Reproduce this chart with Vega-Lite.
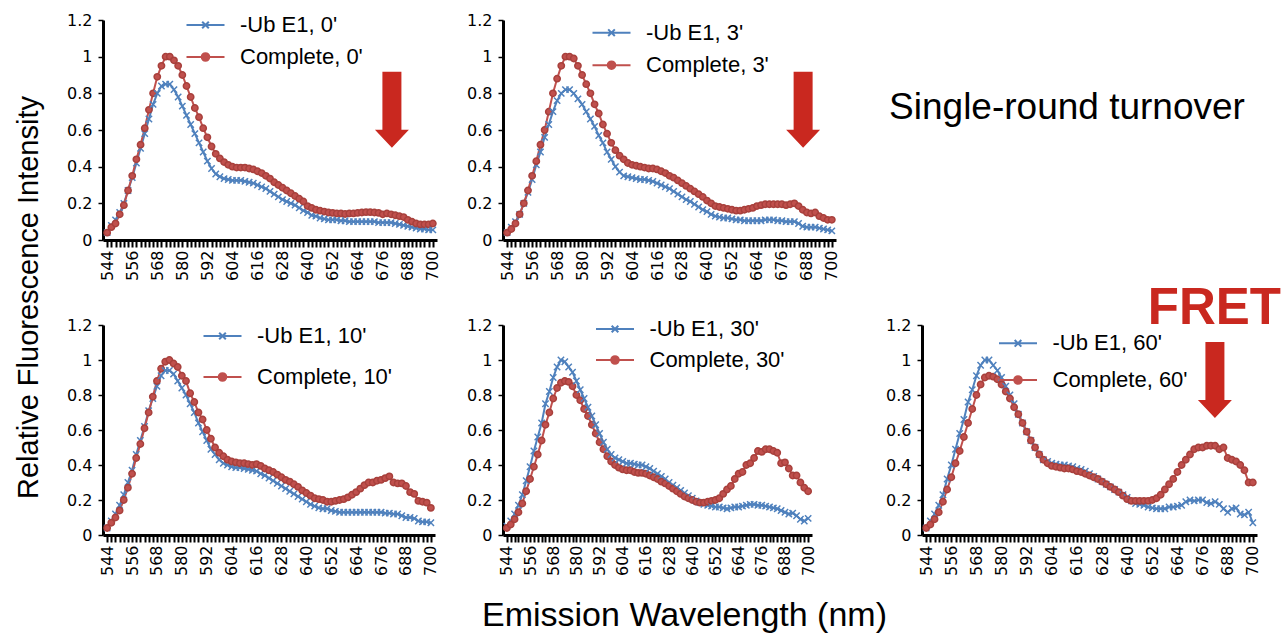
{
"$schema": "https://vega.github.io/schema/vega-lite/v6.json",
"background": "white",
"padding": {"left": 0, "top": 12, "right": 0, "bottom": 0},
"autosize": {"type": "pad"},
"config": {
 "view": {"stroke": null},
 "font": "Liberation Sans",
 "axis": {"grid": false, "domainColor": "black", "domainWidth": 3, "tickColor": "black", "labelColor": "black", "labelFont": "DejaVu Sans", "labelFontSize": 16, "labelOverlap": false, "labelFlush": false},
 "axisX": {"tickSize": 7, "tickWidth": 2, "labelAngle": 270, "labelPadding": 3},
 "axisY": {"tickSize": 5, "tickWidth": 1.5, "labelPadding": 6},
 "legend": {"orient": "none", "title": null, "padding": 0, "symbolSize": 361, "symbolStrokeWidth": 2, "labelFontSize": 22, "labelFont": "Liberation Sans", "labelColor": "black", "labelOffset": 23.5, "labelLimit": 0}
},
"datasets": {
 "spec": [
{"wl":544,"ub0":0.04,"c0":0.04,"ub3":0.04,"c3":0.04,"ub10":0.04,"c10":0.04,"ub30":0.05,"c30":0.04,"ub60":0.04,"c60":0.04},
{"wl":546,"ub0":0.08,"c0":0.07,"ub3":0.07,"c3":0.06,"ub10":0.08,"c10":0.07,"ub30":0.08,"c30":0.06,"ub60":0.08,"c60":0.06},
{"wl":548,"ub0":0.11,"c0":0.09,"ub3":0.10,"c3":0.09,"ub10":0.12,"c10":0.10,"ub30":0.12,"c30":0.09,"ub60":0.12,"c60":0.09},
{"wl":550,"ub0":0.15,"c0":0.14,"ub3":0.14,"c3":0.14,"ub10":0.17,"c10":0.14,"ub30":0.17,"c30":0.13,"ub60":0.17,"c60":0.13},
{"wl":552,"ub0":0.20,"c0":0.19,"ub3":0.20,"c3":0.20,"ub10":0.23,"c10":0.20,"ub30":0.23,"c30":0.18,"ub60":0.23,"c60":0.19},
{"wl":554,"ub0":0.27,"c0":0.27,"ub3":0.26,"c3":0.27,"ub10":0.30,"c10":0.27,"ub30":0.31,"c30":0.25,"ub60":0.32,"c60":0.26},
{"wl":556,"ub0":0.34,"c0":0.35,"ub3":0.33,"c3":0.35,"ub10":0.37,"c10":0.35,"ub30":0.39,"c30":0.32,"ub60":0.40,"c60":0.33},
{"wl":558,"ub0":0.42,"c0":0.44,"ub3":0.41,"c3":0.43,"ub10":0.46,"c10":0.44,"ub30":0.48,"c30":0.39,"ub60":0.49,"c60":0.41},
{"wl":560,"ub0":0.50,"c0":0.52,"ub3":0.48,"c3":0.52,"ub10":0.54,"c10":0.52,"ub30":0.56,"c30":0.46,"ub60":0.58,"c60":0.48},
{"wl":562,"ub0":0.58,"c0":0.61,"ub3":0.56,"c3":0.60,"ub10":0.62,"c10":0.61,"ub30":0.64,"c30":0.54,"ub60":0.66,"c60":0.56},
{"wl":564,"ub0":0.66,"c0":0.71,"ub3":0.63,"c3":0.70,"ub10":0.71,"c10":0.70,"ub30":0.75,"c30":0.63,"ub60":0.76,"c60":0.64},
{"wl":566,"ub0":0.74,"c0":0.80,"ub3":0.70,"c3":0.80,"ub10":0.78,"c10":0.79,"ub30":0.82,"c30":0.70,"ub60":0.83,"c60":0.72},
{"wl":568,"ub0":0.80,"c0":0.89,"ub3":0.76,"c3":0.88,"ub10":0.85,"c10":0.88,"ub30":0.90,"c30":0.78,"ub60":0.91,"c60":0.80},
{"wl":570,"ub0":0.84,"c0":0.95,"ub3":0.80,"c3":0.95,"ub10":0.91,"c10":0.95,"ub30":0.96,"c30":0.84,"ub60":0.97,"c60":0.86},
{"wl":572,"ub0":0.85,"c0":1.0,"ub3":0.82,"c3":1.0,"ub10":0.94,"c10":0.99,"ub30":1.0,"c30":0.87,"ub60":1.0,"c60":0.90},
{"wl":574,"ub0":0.85,"c0":1.0,"ub3":0.82,"c3":1.0,"ub10":0.94,"c10":1.0,"ub30":0.99,"c30":0.88,"ub60":1.0,"c60":0.91},
{"wl":576,"ub0":0.82,"c0":0.98,"ub3":0.80,"c3":0.99,"ub10":0.92,"c10":0.98,"ub30":0.96,"c30":0.875,"ub60":0.97,"c60":0.905},
{"wl":578,"ub0":0.78,"c0":0.95,"ub3":0.77,"c3":0.95,"ub10":0.88,"c10":0.96,"ub30":0.93,"c30":0.85,"ub60":0.94,"c60":0.89},
{"wl":580,"ub0":0.73,"c0":0.90,"ub3":0.74,"c3":0.90,"ub10":0.84,"c10":0.91,"ub30":0.88,"c30":0.80,"ub60":0.90,"c60":0.86},
{"wl":582,"ub0":0.68,"c0":0.84,"ub3":0.70,"c3":0.85,"ub10":0.80,"c10":0.88,"ub30":0.83,"c30":0.77,"ub60":0.85,"c60":0.82},
{"wl":584,"ub0":0.63,"c0":0.78,"ub3":0.66,"c3":0.80,"ub10":0.75,"c10":0.81,"ub30":0.78,"c30":0.72,"ub60":0.80,"c60":0.78},
{"wl":586,"ub0":0.58,"c0":0.72,"ub3":0.62,"c3":0.74,"ub10":0.70,"c10":0.76,"ub30":0.73,"c30":0.68,"ub60":0.75,"c60":0.73},
{"wl":588,"ub0":0.53,"c0":0.67,"ub3":0.57,"c3":0.69,"ub10":0.64,"c10":0.70,"ub30":0.68,"c30":0.63,"ub60":0.69,"c60":0.69},
{"wl":590,"ub0":0.48,"c0":0.61,"ub3":0.53,"c3":0.63,"ub10":0.59,"c10":0.66,"ub30":0.63,"c30":0.58,"ub60":0.64,"c60":0.64},
{"wl":592,"ub0":0.43,"c0":0.56,"ub3":0.48,"c3":0.58,"ub10":0.54,"c10":0.60,"ub30":0.58,"c30":0.53,"ub60":0.59,"c60":0.59},
{"wl":594,"ub0":0.39,"c0":0.51,"ub3":0.44,"c3":0.53,"ub10":0.49,"c10":0.55,"ub30":0.53,"c30":0.49,"ub60":0.54,"c60":0.54},
{"wl":596,"ub0":0.36,"c0":0.47,"ub3":0.40,"c3":0.49,"ub10":0.46,"c10":0.50,"ub30":0.49,"c30":0.45,"ub60":0.50,"c60":0.50},
{"wl":598,"ub0":0.345,"c0":0.445,"ub3":0.37,"c3":0.46,"ub10":0.43,"c10":0.47,"ub30":0.46,"c30":0.42,"ub60":0.46,"c60":0.46},
{"wl":600,"ub0":0.335,"c0":0.425,"ub3":0.35,"c3":0.44,"ub10":0.41,"c10":0.45,"ub30":0.44,"c30":0.40,"ub60":0.43,"c60":0.43},
{"wl":602,"ub0":0.33,"c0":0.41,"ub3":0.345,"c3":0.42,"ub10":0.40,"c10":0.43,"ub30":0.43,"c30":0.385,"ub60":0.42,"c60":0.41},
{"wl":604,"ub0":0.325,"c0":0.40,"ub3":0.34,"c3":0.41,"ub10":0.39,"c10":0.42,"ub30":0.42,"c30":0.375,"ub60":0.41,"c60":0.395},
{"wl":606,"ub0":0.325,"c0":0.395,"ub3":0.335,"c3":0.405,"ub10":0.385,"c10":0.415,"ub30":0.41,"c30":0.37,"ub60":0.405,"c60":0.39},
{"wl":608,"ub0":0.325,"c0":0.395,"ub3":0.33,"c3":0.40,"ub10":0.385,"c10":0.41,"ub30":0.41,"c30":0.37,"ub60":0.40,"c60":0.385},
{"wl":610,"ub0":0.32,"c0":0.395,"ub3":0.33,"c3":0.395,"ub10":0.38,"c10":0.41,"ub30":0.405,"c30":0.36,"ub60":0.40,"c60":0.38},
{"wl":612,"ub0":0.315,"c0":0.39,"ub3":0.325,"c3":0.39,"ub10":0.375,"c10":0.405,"ub30":0.40,"c30":0.355,"ub60":0.395,"c60":0.38},
{"wl":614,"ub0":0.31,"c0":0.385,"ub3":0.32,"c3":0.39,"ub10":0.37,"c10":0.40,"ub30":0.40,"c30":0.355,"ub60":0.39,"c60":0.375},
{"wl":616,"ub0":0.30,"c0":0.375,"ub3":0.31,"c3":0.385,"ub10":0.365,"c10":0.405,"ub30":0.39,"c30":0.35,"ub60":0.38,"c60":0.365},
{"wl":618,"ub0":0.29,"c0":0.365,"ub3":0.30,"c3":0.375,"ub10":0.35,"c10":0.395,"ub30":0.38,"c30":0.34,"ub60":0.375,"c60":0.36},
{"wl":620,"ub0":0.28,"c0":0.35,"ub3":0.29,"c3":0.365,"ub10":0.34,"c10":0.38,"ub30":0.365,"c30":0.33,"ub60":0.365,"c60":0.35},
{"wl":622,"ub0":0.265,"c0":0.335,"ub3":0.28,"c3":0.35,"ub10":0.325,"c10":0.37,"ub30":0.35,"c30":0.32,"ub60":0.35,"c60":0.34},
{"wl":624,"ub0":0.25,"c0":0.315,"ub3":0.265,"c3":0.34,"ub10":0.31,"c10":0.36,"ub30":0.335,"c30":0.305,"ub60":0.335,"c60":0.33},
{"wl":626,"ub0":0.235,"c0":0.30,"ub3":0.25,"c3":0.325,"ub10":0.295,"c10":0.345,"ub30":0.32,"c30":0.295,"ub60":0.32,"c60":0.32},
{"wl":628,"ub0":0.22,"c0":0.285,"ub3":0.235,"c3":0.31,"ub10":0.28,"c10":0.33,"ub30":0.30,"c30":0.28,"ub60":0.305,"c60":0.305},
{"wl":630,"ub0":0.21,"c0":0.27,"ub3":0.22,"c3":0.295,"ub10":0.265,"c10":0.315,"ub30":0.285,"c30":0.265,"ub60":0.29,"c60":0.29},
{"wl":632,"ub0":0.20,"c0":0.255,"ub3":0.21,"c3":0.28,"ub10":0.25,"c10":0.305,"ub30":0.27,"c30":0.25,"ub60":0.275,"c60":0.275},
{"wl":634,"ub0":0.19,"c0":0.24,"ub3":0.195,"c3":0.265,"ub10":0.235,"c10":0.29,"ub30":0.255,"c30":0.235,"ub60":0.26,"c60":0.26},
{"wl":636,"ub0":0.175,"c0":0.225,"ub3":0.18,"c3":0.25,"ub10":0.22,"c10":0.275,"ub30":0.24,"c30":0.22,"ub60":0.245,"c60":0.245},
{"wl":638,"ub0":0.16,"c0":0.21,"ub3":0.165,"c3":0.235,"ub10":0.205,"c10":0.255,"ub30":0.225,"c30":0.21,"ub60":0.23,"c60":0.225},
{"wl":640,"ub0":0.15,"c0":0.185,"ub3":0.155,"c3":0.215,"ub10":0.19,"c10":0.24,"ub30":0.21,"c30":0.20,"ub60":0.215,"c60":0.205},
{"wl":642,"ub0":0.135,"c0":0.175,"ub3":0.14,"c3":0.20,"ub10":0.175,"c10":0.225,"ub30":0.195,"c30":0.19,"ub60":0.195,"c60":0.195},
{"wl":644,"ub0":0.13,"c0":0.165,"ub3":0.13,"c3":0.185,"ub10":0.165,"c10":0.21,"ub30":0.185,"c30":0.185,"ub60":0.18,"c60":0.195},
{"wl":646,"ub0":0.12,"c0":0.16,"ub3":0.125,"c3":0.18,"ub10":0.155,"c10":0.205,"ub30":0.175,"c30":0.185,"ub60":0.175,"c60":0.195},
{"wl":648,"ub0":0.115,"c0":0.155,"ub3":0.12,"c3":0.175,"ub10":0.15,"c10":0.20,"ub30":0.17,"c30":0.19,"ub60":0.17,"c60":0.195},
{"wl":650,"ub0":0.11,"c0":0.15,"ub3":0.12,"c3":0.17,"ub10":0.15,"c10":0.19,"ub30":0.165,"c30":0.195,"ub60":0.16,"c60":0.195},
{"wl":652,"ub0":0.11,"c0":0.148,"ub3":0.115,"c3":0.165,"ub10":0.14,"c10":0.19,"ub30":0.16,"c30":0.20,"ub60":0.155,"c60":0.20},
{"wl":654,"ub0":0.11,"c0":0.145,"ub3":0.11,"c3":0.16,"ub10":0.135,"c10":0.195,"ub30":0.16,"c30":0.21,"ub60":0.15,"c60":0.21},
{"wl":656,"ub0":0.105,"c0":0.145,"ub3":0.11,"c3":0.16,"ub10":0.13,"c10":0.20,"ub30":0.155,"c30":0.235,"ub60":0.15,"c60":0.23},
{"wl":658,"ub0":0.105,"c0":0.142,"ub3":0.105,"c3":0.165,"ub10":0.13,"c10":0.205,"ub30":0.15,"c30":0.26,"ub60":0.15,"c60":0.26},
{"wl":660,"ub0":0.10,"c0":0.145,"ub3":0.105,"c3":0.17,"ub10":0.13,"c10":0.215,"ub30":0.155,"c30":0.28,"ub60":0.16,"c60":0.29},
{"wl":662,"ub0":0.10,"c0":0.145,"ub3":0.105,"c3":0.175,"ub10":0.13,"c10":0.23,"ub30":0.16,"c30":0.32,"ub60":0.16,"c60":0.32},
{"wl":664,"ub0":0.10,"c0":0.148,"ub3":0.105,"c3":0.185,"ub10":0.13,"c10":0.245,"ub30":0.16,"c30":0.35,"ub60":0.165,"c60":0.36},
{"wl":666,"ub0":0.10,"c0":0.15,"ub3":0.105,"c3":0.19,"ub10":0.13,"c10":0.265,"ub30":0.165,"c30":0.36,"ub60":0.17,"c60":0.40},
{"wl":668,"ub0":0.10,"c0":0.152,"ub3":0.11,"c3":0.195,"ub10":0.13,"c10":0.285,"ub30":0.17,"c30":0.40,"ub60":0.19,"c60":0.43},
{"wl":670,"ub0":0.10,"c0":0.152,"ub3":0.11,"c3":0.195,"ub10":0.13,"c10":0.30,"ub30":0.175,"c30":0.41,"ub60":0.20,"c60":0.46},
{"wl":672,"ub0":0.10,"c0":0.15,"ub3":0.11,"c3":0.195,"ub10":0.13,"c10":0.30,"ub30":0.175,"c30":0.44,"ub60":0.195,"c60":0.49},
{"wl":674,"ub0":0.095,"c0":0.148,"ub3":0.105,"c3":0.195,"ub10":0.13,"c10":0.31,"ub30":0.17,"c30":0.48,"ub60":0.20,"c60":0.50},
{"wl":676,"ub0":0.095,"c0":0.14,"ub3":0.105,"c3":0.195,"ub10":0.13,"c10":0.315,"ub30":0.17,"c30":0.475,"ub60":0.20,"c60":0.50},
{"wl":678,"ub0":0.095,"c0":0.145,"ub3":0.10,"c3":0.19,"ub10":0.125,"c10":0.325,"ub30":0.165,"c30":0.49,"ub60":0.185,"c60":0.51},
{"wl":680,"ub0":0.095,"c0":0.14,"ub3":0.10,"c3":0.195,"ub10":0.125,"c10":0.335,"ub30":0.16,"c30":0.49,"ub60":0.18,"c60":0.51},
{"wl":682,"ub0":0.09,"c0":0.135,"ub3":0.10,"c3":0.20,"ub10":0.12,"c10":0.30,"ub30":0.155,"c30":0.48,"ub60":0.19,"c60":0.51},
{"wl":684,"ub0":0.085,"c0":0.13,"ub3":0.09,"c3":0.185,"ub10":0.12,"c10":0.295,"ub30":0.15,"c30":0.47,"ub60":0.175,"c60":0.49},
{"wl":686,"ub0":0.08,"c0":0.125,"ub3":0.075,"c3":0.165,"ub10":0.11,"c10":0.295,"ub30":0.14,"c30":0.41,"ub60":0.15,"c60":0.50},
{"wl":688,"ub0":0.075,"c0":0.11,"ub3":0.07,"c3":0.15,"ub10":0.10,"c10":0.28,"ub30":0.13,"c30":0.415,"ub60":0.13,"c60":0.44},
{"wl":690,"ub0":0.07,"c0":0.10,"ub3":0.07,"c3":0.145,"ub10":0.10,"c10":0.245,"ub30":0.12,"c30":0.38,"ub60":0.15,"c60":0.43},
{"wl":692,"ub0":0.065,"c0":0.09,"ub3":0.07,"c3":0.15,"ub10":0.095,"c10":0.235,"ub30":0.125,"c30":0.34,"ub60":0.155,"c60":0.42},
{"wl":694,"ub0":0.06,"c0":0.085,"ub3":0.065,"c3":0.13,"ub10":0.08,"c10":0.195,"ub30":0.11,"c30":0.34,"ub60":0.12,"c60":0.40},
{"wl":696,"ub0":0.06,"c0":0.085,"ub3":0.06,"c3":0.12,"ub10":0.075,"c10":0.19,"ub30":0.09,"c30":0.30,"ub60":0.115,"c60":0.37},
{"wl":698,"ub0":0.055,"c0":0.085,"ub3":0.055,"c3":0.11,"ub10":0.075,"c10":0.185,"ub30":0.08,"c30":0.27,"ub60":0.13,"c60":0.30},
{"wl":700,"ub0":0.055,"c0":0.09,"ub3":0.05,"c3":0.11,"ub10":0.07,"c10":0.155,"ub30":0.095,"c30":0.25,"ub60":0.07,"c60":0.30}
 ],
 "arrows": [
  {"panel": "0", "wl": 680.4, "v": 0.71},
  {"panel": "3", "wl": 686.2, "v": 0.71},
  {"panel": "60", "wl": 681.9, "v": 0.886}
 ]
},
"title": {"text": "Emission Wavelength (nm)", "orient": "bottom", "anchor": "middle", "fontSize": 34, "fontWeight": "normal", "font": "Liberation Sans", "color": "black", "dx": 44, "offset": 23},
"columns": 6,
"align": {"row": "each", "column": "each"},
"bounds": "flush",
"spacing": {"row": 85, "column": 0},
"resolve": {"scale": {"color": "independent", "stroke": "independent", "shape": "independent"}, "legend": {"color": "independent"}},
"concat": [
 {"width": 103, "height": 10, "data": {"values": []}, "mark": {"type": "point", "opacity": 0}},
 {
  "width": 334, "height": 220,
  "data": {"name": "spec"},
  "transform": [{"fold": ["ub0", "c0"], "as": ["kind", "v"]}],
  "encoding": {
   "x": {"field": "wl", "type": "quantitative", "scale": {"domain": [542, 702], "nice": false, "zero": false}, "axis": {"title": null, "format": "d", "labelExpr": "(datum.value - 544) % 12 === 0 ? datum.label : ''", "values": [544,546,548,550,552,554,556,558,560,562,564,566,568,570,572,574,576,578,580,582,584,586,588,590,592,594,596,598,600,602,604,606,608,610,612,614,616,618,620,622,624,626,628,630,632,634,636,638,640,642,644,646,648,650,652,654,656,658,660,662,664,666,668,670,672,674,676,678,680,682,684,686,688,690,692,694,696,698,700]}},
   "y": {"field": "v", "type": "quantitative", "scale": {"domain": [0, 1.2], "nice": false, "zero": false}, "axis": {"title": "Relative Fluorescence Intensity", "titleAngle": 270, "titleX": -75, "titleY": 277, "titleFontSize": 29, "titleFont": "Liberation Sans", "titleFontWeight": "normal", "titleColor": "black", "titleAlign": "center", "titleBaseline": "middle", "format": "~g", "values": [0, 0.2, 0.4, 0.6, 0.8, 1, 1.2]}}
  },
  "layer": [
   {"mark": {"type": "line", "strokeWidth": 2}, "encoding": {"color": {"field": "kind", "type": "nominal", "scale": {"domain": ["ub0", "c0"], "range": ["#4f81bd", "#c0504d"]}, "legend": {"legendX": 91.5, "legendY": -6, "rowPadding": 10, "labelExpr": "datum.value === 'ub0' ? \"-Ub E1, 0'\" : \"Complete, 0'\"", "encode": {"symbols": {"update": {"shape": {"signal": "indexof(datum.value,'ub')===0 ? 'M-2,0H2M-0.35,-0.35L0.35,0.35M-0.35,0.35L0.35,-0.35' : 'M-2,0H2M-0.4,0A0.4,0.4 0 1 1 0.4,0A0.4,0.4 0 1 1 -0.4,0'"}, "fill": {"signal": "indexof(datum.value,'ub')===0 ? 'transparent' : '#c0504d'"}, "strokeWidth": {"value": 2}}}}}}}},
   {"mark": {"type": "point", "filled": true, "size": 40, "strokeWidth": 1.5, "opacity": 1}, "encoding": {"color": {"field": "kind", "type": "nominal", "legend": null}, "stroke": {"field": "kind", "type": "nominal", "scale": {"domain": ["c0", "ub0"], "range": ["#a8403c", "#4f81bd"]}, "legend": null}, "shape": {"field": "kind", "type": "nominal", "scale": {"domain": ["c0", "ub0"], "range": ["circle", "M-1,-1L1,1M-1,1L1,-1"]}, "legend": null}}},
   {"data": {"name": "arrows"}, "transform": [{"filter": "datum.panel === '0'"}], "mark": {"type": "point", "shape": "M-0.25,-1L0.25,-1L0.25,0.526L0.447,0.526L0,1L-0.447,0.526L-0.25,0.526Z", "size": 5776, "filled": true, "color": "#c9281f", "opacity": 1}}
  ]
 },
 {"width": 66, "height": 10, "data": {"values": []}, "mark": {"type": "point", "opacity": 0}},
 {
  "width": 333, "height": 220,
  "data": {"name": "spec"},
  "transform": [{"fold": ["ub3", "c3"], "as": ["kind", "v"]}],
  "encoding": {
   "x": {"field": "wl", "type": "quantitative", "scale": {"domain": [542, 702], "nice": false, "zero": false}, "axis": {"title": null, "format": "d", "labelExpr": "(datum.value - 544) % 12 === 0 ? datum.label : ''", "values": [544,546,548,550,552,554,556,558,560,562,564,566,568,570,572,574,576,578,580,582,584,586,588,590,592,594,596,598,600,602,604,606,608,610,612,614,616,618,620,622,624,626,628,630,632,634,636,638,640,642,644,646,648,650,652,654,656,658,660,662,664,666,668,670,672,674,676,678,680,682,684,686,688,690,692,694,696,698,700]}},
   "y": {"field": "v", "type": "quantitative", "scale": {"domain": [0, 1.2], "nice": false, "zero": false}, "axis": {"title": null, "format": "~g", "values": [0, 0.2, 0.4, 0.6, 0.8, 1, 1.2]}}
  },
  "layer": [
   {"mark": {"type": "line", "strokeWidth": 2}, "encoding": {"color": {"field": "kind", "type": "nominal", "scale": {"domain": ["ub3", "c3"], "range": ["#4f81bd", "#c0504d"]}, "legend": {"legendX": 97.5, "legendY": 1.7, "rowPadding": 10.5, "labelExpr": "datum.value === 'ub3' ? \"-Ub E1, 3'\" : \"Complete, 3'\"", "encode": {"symbols": {"update": {"shape": {"signal": "indexof(datum.value,'ub')===0 ? 'M-2,0H2M-0.35,-0.35L0.35,0.35M-0.35,0.35L0.35,-0.35' : 'M-2,0H2M-0.4,0A0.4,0.4 0 1 1 0.4,0A0.4,0.4 0 1 1 -0.4,0'"}, "fill": {"signal": "indexof(datum.value,'ub')===0 ? 'transparent' : '#c0504d'"}, "strokeWidth": {"value": 2}}}}}}}},
   {"mark": {"type": "point", "filled": true, "size": 40, "strokeWidth": 1.5, "opacity": 1}, "encoding": {"color": {"field": "kind", "type": "nominal", "legend": null}, "stroke": {"field": "kind", "type": "nominal", "scale": {"domain": ["c3", "ub3"], "range": ["#a8403c", "#4f81bd"]}, "legend": null}, "shape": {"field": "kind", "type": "nominal", "scale": {"domain": ["c3", "ub3"], "range": ["circle", "M-1,-1L1,1M-1,1L1,-1"]}, "legend": null}}},
   {"data": {"name": "arrows"}, "transform": [{"filter": "datum.panel === '3'"}], "mark": {"type": "point", "shape": "M-0.25,-1L0.25,-1L0.25,0.526L0.447,0.526L0,1L-0.447,0.526L-0.25,0.526Z", "size": 5776, "filled": true, "color": "#c9281f", "opacity": 1}}
  ]
 },
 {"width": 86, "height": 10, "data": {"values": []}, "mark": {"type": "point", "opacity": 0}},
 {
  "width": 290, "height": 176,
  "data": {"values": [{"t": "Single-round turnover"}]},
  "mark": {"type": "text", "fontSize": 37, "font": "Liberation Sans", "color": "black", "align": "center", "baseline": "middle"},
  "encoding": {"text": {"field": "t"}}
 },
 {"width": 103, "height": 10, "data": {"values": []}, "mark": {"type": "point", "opacity": 0}},
 {
  "width": 332, "height": 210,
  "data": {"name": "spec"},
  "transform": [{"fold": ["ub10", "c10"], "as": ["kind", "v"]}],
  "encoding": {
   "x": {"field": "wl", "type": "quantitative", "scale": {"domain": [542, 702], "nice": false, "zero": false}, "axis": {"title": null, "format": "d", "labelExpr": "(datum.value - 544) % 12 === 0 ? datum.label : ''", "values": [544,546,548,550,552,554,556,558,560,562,564,566,568,570,572,574,576,578,580,582,584,586,588,590,592,594,596,598,600,602,604,606,608,610,612,614,616,618,620,622,624,626,628,630,632,634,636,638,640,642,644,646,648,650,652,654,656,658,660,662,664,666,668,670,672,674,676,678,680,682,684,686,688,690,692,694,696,698,700]}},
   "y": {"field": "v", "type": "quantitative", "scale": {"domain": [0, 1.2], "nice": false, "zero": false}, "axis": {"title": null, "format": "~g", "values": [0, 0.2, 0.4, 0.6, 0.8, 1, 1.2]}}
  },
  "layer": [
   {"mark": {"type": "line", "strokeWidth": 2}, "encoding": {"color": {"field": "kind", "type": "nominal", "scale": {"domain": ["ub10", "c10"], "range": ["#4f81bd", "#c0504d"]}, "legend": {"legendX": 108.5, "legendY": 0, "rowPadding": 19, "labelExpr": "datum.value === 'ub10' ? \"-Ub E1, 10'\" : \"Complete, 10'\"", "encode": {"symbols": {"update": {"shape": {"signal": "indexof(datum.value,'ub')===0 ? 'M-2,0H2M-0.35,-0.35L0.35,0.35M-0.35,0.35L0.35,-0.35' : 'M-2,0H2M-0.4,0A0.4,0.4 0 1 1 0.4,0A0.4,0.4 0 1 1 -0.4,0'"}, "fill": {"signal": "indexof(datum.value,'ub')===0 ? 'transparent' : '#c0504d'"}, "strokeWidth": {"value": 2}}}}}}}},
   {"mark": {"type": "point", "filled": true, "size": 40, "strokeWidth": 1.5, "opacity": 1}, "encoding": {"color": {"field": "kind", "type": "nominal", "legend": null}, "stroke": {"field": "kind", "type": "nominal", "scale": {"domain": ["c10", "ub10"], "range": ["#a8403c", "#4f81bd"]}, "legend": null}, "shape": {"field": "kind", "type": "nominal", "scale": {"domain": ["c10", "ub10"], "range": ["circle", "M-1,-1L1,1M-1,1L1,-1"]}, "legend": null}}}
  ]
 },
 {"width": 66, "height": 10, "data": {"values": []}, "mark": {"type": "point", "opacity": 0}},
 {
  "width": 309, "height": 210,
  "data": {"name": "spec"},
  "transform": [{"fold": ["ub30", "c30"], "as": ["kind", "v"]}],
  "encoding": {
   "x": {"field": "wl", "type": "quantitative", "scale": {"domain": [542, 702], "nice": false, "zero": false}, "axis": {"title": null, "format": "d", "labelExpr": "(datum.value - 544) % 12 === 0 ? datum.label : ''", "values": [544,546,548,550,552,554,556,558,560,562,564,566,568,570,572,574,576,578,580,582,584,586,588,590,592,594,596,598,600,602,604,606,608,610,612,614,616,618,620,622,624,626,628,630,632,634,636,638,640,642,644,646,648,650,652,654,656,658,660,662,664,666,668,670,672,674,676,678,680,682,684,686,688,690,692,694,696,698,700]}},
   "y": {"field": "v", "type": "quantitative", "scale": {"domain": [0, 1.2], "nice": false, "zero": false}, "axis": {"title": null, "format": "~g", "values": [0, 0.2, 0.4, 0.6, 0.8, 1, 1.2]}}
  },
  "layer": [
   {"mark": {"type": "line", "strokeWidth": 2}, "encoding": {"color": {"field": "kind", "type": "nominal", "scale": {"domain": ["ub30", "c30"], "range": ["#4f81bd", "#c0504d"]}, "legend": {"legendX": 101, "legendY": -7, "rowPadding": 9, "labelExpr": "datum.value === 'ub30' ? \"-Ub E1, 30'\" : \"Complete, 30'\"", "encode": {"symbols": {"update": {"shape": {"signal": "indexof(datum.value,'ub')===0 ? 'M-2,0H2M-0.35,-0.35L0.35,0.35M-0.35,0.35L0.35,-0.35' : 'M-2,0H2M-0.4,0A0.4,0.4 0 1 1 0.4,0A0.4,0.4 0 1 1 -0.4,0'"}, "fill": {"signal": "indexof(datum.value,'ub')===0 ? 'transparent' : '#c0504d'"}, "strokeWidth": {"value": 2}}}}}}}},
   {"mark": {"type": "point", "filled": true, "size": 40, "strokeWidth": 1.5, "opacity": 1}, "encoding": {"color": {"field": "kind", "type": "nominal", "legend": null}, "stroke": {"field": "kind", "type": "nominal", "scale": {"domain": ["c30", "ub30"], "range": ["#a8403c", "#4f81bd"]}, "legend": null}, "shape": {"field": "kind", "type": "nominal", "scale": {"domain": ["c30", "ub30"], "range": ["circle", "M-1,-1L1,1M-1,1L1,-1"]}, "legend": null}}}
  ]
 },
 {"width": 86, "height": 10, "data": {"values": []}, "mark": {"type": "point", "opacity": 0}},
 {
  "width": 335, "height": 210,
  "title": {"text": "FRET", "color": "#c9281f", "fontSize": 51, "fontWeight": "bold", "font": "Liberation Sans", "anchor": "end", "frame": "group", "dx": 24, "dy": 60, "baseline": "alphabetic", "offset": 2},
  "data": {"name": "spec"},
  "transform": [{"fold": ["ub60", "c60"], "as": ["kind", "v"]}],
  "encoding": {
   "x": {"field": "wl", "type": "quantitative", "scale": {"domain": [542, 702], "nice": false, "zero": false}, "axis": {"title": null, "format": "d", "labelExpr": "(datum.value - 544) % 12 === 0 ? datum.label : ''", "values": [544,546,548,550,552,554,556,558,560,562,564,566,568,570,572,574,576,578,580,582,584,586,588,590,592,594,596,598,600,602,604,606,608,610,612,614,616,618,620,622,624,626,628,630,632,634,636,638,640,642,644,646,648,650,652,654,656,658,660,662,664,666,668,670,672,674,676,678,680,682,684,686,688,690,692,694,696,698,700]}},
   "y": {"field": "v", "type": "quantitative", "scale": {"domain": [0, 1.2], "nice": false, "zero": false}, "axis": {"title": null, "format": "~g", "values": [0, 0.2, 0.4, 0.6, 0.8, 1, 1.2]}}
  },
  "layer": [
   {"mark": {"type": "line", "strokeWidth": 2}, "encoding": {"color": {"field": "kind", "type": "nominal", "scale": {"domain": ["ub60", "c60"], "range": ["#4f81bd", "#c0504d"]}, "legend": {"legendX": 85, "legendY": 7.3, "rowPadding": 14.7, "labelExpr": "datum.value === 'ub60' ? \"-Ub E1, 60'\" : \"Complete, 60'\"", "encode": {"symbols": {"update": {"shape": {"signal": "indexof(datum.value,'ub')===0 ? 'M-2,0H2M-0.35,-0.35L0.35,0.35M-0.35,0.35L0.35,-0.35' : 'M-2,0H2M-0.4,0A0.4,0.4 0 1 1 0.4,0A0.4,0.4 0 1 1 -0.4,0'"}, "fill": {"signal": "indexof(datum.value,'ub')===0 ? 'transparent' : '#c0504d'"}, "strokeWidth": {"value": 2}}}}}}}},
   {"mark": {"type": "point", "filled": true, "size": 40, "strokeWidth": 1.5, "opacity": 1}, "encoding": {"color": {"field": "kind", "type": "nominal", "legend": null}, "stroke": {"field": "kind", "type": "nominal", "scale": {"domain": ["c60", "ub60"], "range": ["#a8403c", "#4f81bd"]}, "legend": null}, "shape": {"field": "kind", "type": "nominal", "scale": {"domain": ["c60", "ub60"], "range": ["circle", "M-1,-1L1,1M-1,1L1,-1"]}, "legend": null}}},
   {"data": {"name": "arrows"}, "transform": [{"filter": "datum.panel === '60'"}], "mark": {"type": "point", "shape": "M-0.25,-1L0.25,-1L0.25,0.526L0.447,0.526L0,1L-0.447,0.526L-0.25,0.526Z", "size": 5776, "filled": true, "color": "#c9281f", "opacity": 1}}
  ]
 }
]
}
